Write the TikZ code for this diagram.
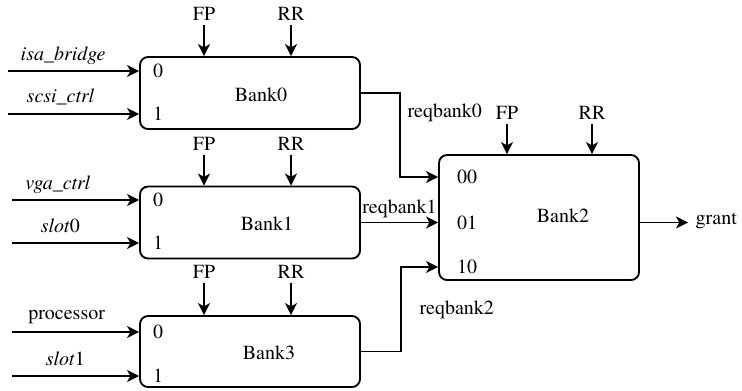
\documentclass[tikz,border=0pt]{standalone}
\usepackage{fontspec}
\setmainfont{texgyretermes}[Extension=.otf, UprightFont=*-regular, ItalicFont=*-italic, BoldFont=*-bold, BoldItalicFont=*-bolditalic]
\usetikzlibrary{arrows.meta}

\tikzset{every picture/.style={line width=0.75pt}}
\tikzset{
  bankbox/.style={draw, rounded corners=6pt, line width=1.4pt, inner sep=0pt},
  arr/.style={line width=1.4pt, -{Stealth[length=9pt,width=9pt,inset=2.5pt]}},
  lbl/.style={inner sep=0.75pt, font=\fontsize{15}{18}\selectfont},
  sig/.style={lbl, inner sep=3pt},
}

\begin{document}
\begin{tikzpicture}[x=0.75pt,y=0.75pt,yscale=-1,xscale=1]
		\useasboundingbox (0,0) rectangle (742,390);
		
		%Shape: Rounded Rect [Bank0]
		\node [bankbox, minimum width=165pt, minimum height=54pt] (b0) at (250,93) {};
		%Shape: Rounded Rect [Bank1]
		\node [bankbox, minimum width=165pt, minimum height=54pt] (b1) at (250,222.5) {};
		%Shape: Rounded Rect [Bank3]
		\node [bankbox, minimum width=165pt, minimum height=53.25pt] (b3) at (250,351.5) {};
		%Shape: Rounded Rect [Bank2]
		\node [bankbox, minimum width=150pt, minimum height=93.75pt] (b2) at (539,217.5) {};
		
		\node [lbl] (b0n) at (261,95) {Bank0};
		\node [lbl] (b1n) at (267,224) {Bank1};
		\node [lbl] (b3n) at (269,353) {Bank3};
		\node [lbl] (b2n) at (563,216) {Bank2};
		
		%ports
		\node [lbl] (b0p0) at (158,71) {0};
		\node [lbl] (b0p1) at (158,114) {1};
		\node [lbl] (b1p0) at (158,200) {0};
		\node [lbl] (b1p1) at (158,243) {1};
		\node [lbl] (b3p0) at (158,332) {0};
		\node [lbl] (b3p1) at (158,376) {1};
		\node [lbl] (b2p0) at (467,177) {00};
		\node [lbl] (b2p1) at (467,223) {01};
		\node [lbl] (b2p2) at (467,267) {10};
		
		%inputs
		\coordinate (i0) at (8,71);
		\coordinate (i1) at (8,114);
		\coordinate (i2) at (12,200);
		\coordinate (i3) at (12,243);
		\coordinate (i4) at (12,332);
		\coordinate (i5) at (12,376);
		\draw [arr] (i0) -- (b0.west |- i0) node [lbl, pos=0.42, above=3pt] (isa) {\textit{isa\_bridge}};
		\draw [arr] (i1) -- (b0.west |- i1) node [lbl, pos=0.40, above=5pt] (scsi) {\textit{scsi\_ctrl}};
		\draw [arr] (i2) -- (b1.west |- i2) node [lbl, pos=0.36, above=3pt] (vga) {\textit{vga\_ctrl}};
		\draw [arr] (i3) -- (b1.west |- i3) node [lbl, pos=0.38, above=6pt] (slot0) {\textit{slot}0};
		\draw [arr] (i4) -- (b3.west |- i4) node [lbl, pos=0.43, above=5pt] (proc) {processor};
		\draw [arr] (i5) -- (b3.west |- i5) node [lbl, pos=0.42, above=6pt] (slot1) {\textit{slot}1};
		
		%FP and RR
		\node [sig, anchor=base] (fp0) at (204,20) {FP};
		\node [sig, anchor=base] (rr0) at (291,20) {RR};
		\node [sig, anchor=base] (fp1) at (204,150) {FP};
		\node [sig, anchor=base] (rr1) at (291,150) {RR};
		\node [sig, anchor=base] (fp3) at (204,278) {FP};
		\node [sig, anchor=base] (rr3) at (291,278) {RR};
		\node [sig, anchor=base] (fp2) at (507,119) {FP};
		\node [sig, anchor=base] (rr2) at (592,119) {RR};
		\draw [arr] (fp0.south) -- (fp0.south |- b0.north);
		\draw [arr] (rr0.south) -- (rr0.south |- b0.north);
		\draw [arr] (fp1.south) -- (fp1.south |- b1.north);
		\draw [arr] (rr1.south) -- (rr1.south |- b1.north);
		\draw [arr] (fp3.south) -- (fp3.south |- b3.north);
		\draw [arr] (rr3.south) -- (rr3.south |- b3.north);
		\draw [arr] (fp2.south) -- (fp2.south |- b2.north);
		\draw [arr] (rr2.south) -- (rr2.south |- b2.north);
		
		%requests
		\coordinate (j0) at (400,177);
		\coordinate (j2) at (401,267);
		\draw [arr] (b0.east) -| (j0) -- (b2.west |- j0);
		\draw [arr] (b1.east) -- (b2.west |- b1.east) node [lbl, midway, above=2pt] (rq1) {reqbank1};
		\draw [arr] (b3.east) -| (j2) -- (b2.west |- j2);
		\node [lbl, anchor=base west] (rq0) at (406,117) {reqbank0};
		\node [lbl, anchor=base west] (rq2) at (418,314) {reqbank2};
		
		%output
		\coordinate (o) at (688,222.5);
		\draw [arr] (b2.east |- o) -- (o);
		\node [lbl, anchor=west] (grant) at (694,221) {grant};
		
\end{tikzpicture}
\end{document}
